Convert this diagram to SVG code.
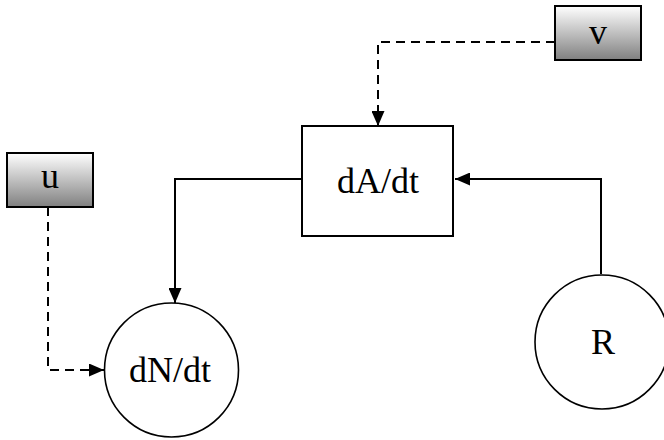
<svg xmlns="http://www.w3.org/2000/svg" width="664" height="440" viewBox="0 0 664 440">
<defs>
<linearGradient id="g" x1="0" y1="0" x2="0" y2="1">
<stop offset="0" stop-color="#ffffff"/>
<stop offset="1" stop-color="#808080"/>
</linearGradient>
<marker id="ah" viewBox="0 0 15 13" refX="15" refY="6.5" markerWidth="15" markerHeight="13" markerUnits="userSpaceOnUse" orient="auto">
<path d="M0,0 L15,6.5 L0,13 z" fill="#000"/>
</marker>
</defs>
<style>
.box{fill:#fff;stroke:#000;stroke-width:2}
.in{fill:url(#g);stroke:#000;stroke-width:2}
.c{fill:#fff;stroke:#000;stroke-width:1.6}
.t{font-family:"Liberation Serif","Times New Roman",serif;font-size:36px;fill:#000;text-anchor:middle}
.e{fill:none;stroke:#000;stroke-width:2}
.d{fill:none;stroke:#000;stroke-width:2;stroke-dasharray:9,6}
</style>
<g id="connectors">
<path class="e" d="M601,274 V179 H455" marker-end="url(#ah)"/>
<path class="e" d="M302,179 H175 V303" marker-end="url(#ah)"/>
<path class="d" d="M555,42 H378 V126" marker-end="url(#ah)"/>
<path class="d" d="M48,207 V370 H104" marker-end="url(#ah)"/>
</g>
<g id="v"><rect class="in" x="555" y="6" width="86" height="54"/><text class="t" x="598" y="44">v</text></g>
<g id="u"><rect class="in" x="7" y="153" width="86" height="54"/><text class="t" x="50" y="188">u</text></g>
<g id="dAdt"><rect class="box" x="302" y="126" width="151" height="110"/><text class="t" x="378" y="193">dA/dt</text></g>
<g id="dNdt"><circle class="c" cx="171.5" cy="370" r="67"/><text class="t" x="170" y="382">dN/dt</text></g>
<g id="R"><circle class="c" cx="602" cy="342" r="67"/><text class="t" x="603" y="354">R</text></g>
</svg>
